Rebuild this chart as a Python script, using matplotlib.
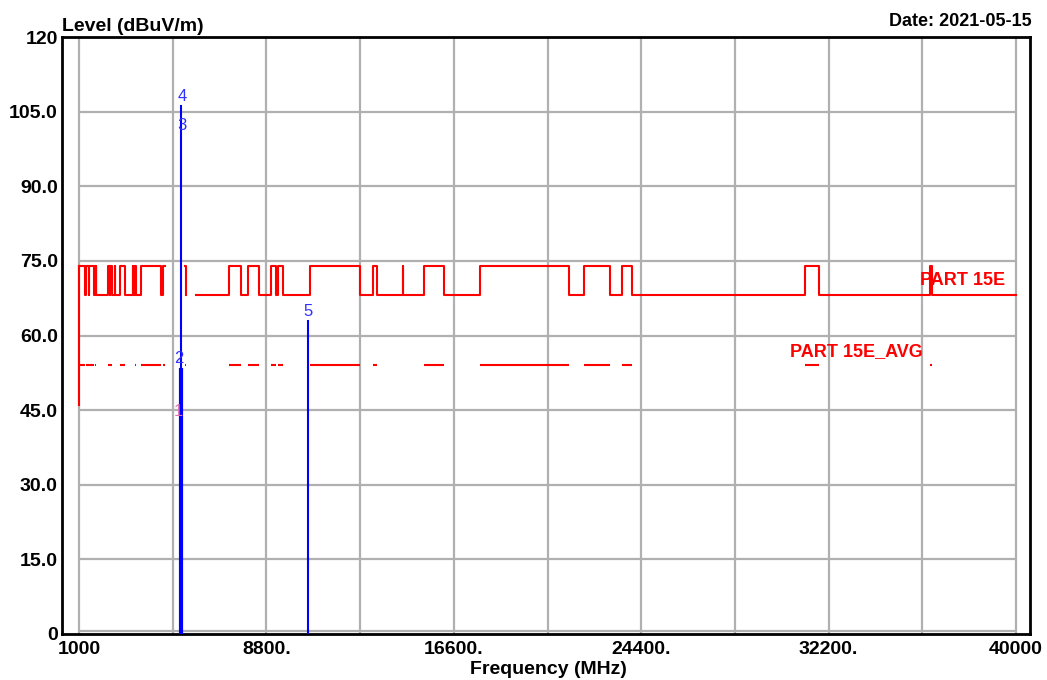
import numpy as np
import matplotlib
matplotlib.use("Agg")
import matplotlib.pyplot as plt

# limit levels (dBuV/m)
peak_hi = 74.0
peak_lo = 68.2
avg_level = 54.0
start_level = 46.0

# restricted bands (MHz) where the peak limit is 74 and the average limit is 54
restricted_bands = [
    (1000, 1240), (1300, 1427), (1435, 1626.5), (1645.5, 1646.5), (1660, 1710),
    (1718.8, 1722.2), (2200, 2300), (2310, 2390), (2483.5, 2500), (2690, 2900),
    (3260, 3267), (3332, 3339), (3345.8, 3358), (3600, 4400), (4500, 5150),
    (5350, 5460), (7250, 7750), (8025, 8500), (9000, 9200), (9300, 9500),
    (10600, 12700), (13250, 13400), (14470, 14500), (15350, 16200),
    (17700, 21400), (22010, 23120), (23600, 24000), (31200, 31800), (36430, 36500),
]
# spans where the limit lines are drawn (gap around the operating band)
limit_spans = [(1000, 4560), (5420, 5470), (5850, 40000)]

# measured traces (blue)
trace_freq = [5250, 5262, 10520]
trace_level = [53.5, 106.3, 63.1]

# marker labels
marker_ids = ["1", "2", "3", "4", "5"]
marker_freq = [5150, 5150, 5300, 5300, 10520]
marker_level = [43.0, 53.5, 100.5, 106.3, 63.1]

x_ticks = [1000, 8800, 16600, 24400, 32200, 40000]
x_tick_labels = ["1000", "8800.", "16600.", "24400.", "32200.", "40000"]
x_grid = [1000, 4900, 8800, 12700, 16600, 20500, 24400, 28300, 32200, 36100, 40000]
y_ticks = [0, 15, 30, 45, 60, 75, 90, 105, 120]
y_tick_labels = ["0", "15.0", "30.0", "45.0", "60.0", "75.0", "90.0", "105.0", "120"]

RED = "#ff0000"
BLUE = "#0000ff"
GRID = "#b0b0b0"
BOLD = ["Liberation Sans", "DejaVu Sans"]


def in_band(f):
    return any(a <= f <= b for a, b in restricted_bands)


def peak_step(lo_f, hi_f):
    edges = {lo_f, hi_f}
    for a, b in restricted_bands:
        for e in (a, b):
            if lo_f < e < hi_f:
                edges.add(e)
    edges = sorted(edges)
    levels = [peak_hi if in_band(0.5 * (e0 + e1)) else peak_lo
              for e0, e1 in zip(edges[:-1], edges[1:])]
    return edges, levels + [levels[-1]]


fig = plt.figure(figsize=(10.47, 6.8), dpi=100)
W, H = 1047, 680
ax = fig.add_axes([62 / W, 1 - 634 / H, (1030 - 62) / W, (634 - 37) / H])
ax.set_xlim(292, 40582)
ax.set_ylim(0, 120)

# grid, drawn only over the measured span
ax.vlines(x_grid, 0, 120, color=GRID, lw=1.6, zorder=1)
ax.hlines(y_ticks[1:-1], 1000, 40000, color=GRID, lw=1.6, zorder=1)
ax.hlines(0.6, 1000, 40000, color=GRID, lw=1.6, zorder=1)

# peak limit
for i, (a, b) in enumerate(limit_spans):
    xs, ys = peak_step(a, b)
    if i == 0:
        ax.plot([a, a], [start_level, ys[0]], color=RED, lw=1.5, zorder=3)
    ax.step(xs, ys, where="post", color=RED, lw=1.5, zorder=3)

# average limit
for a, b in restricted_bands:
    for sa, sb in limit_spans:
        lo_f, hi_f = max(a, sa), min(b, sb)
        if lo_f < hi_f:
            ax.hlines(avg_level, lo_f, hi_f, color=RED, lw=1.5, zorder=3)

ax.text(36000, 71.0, "PART 15E", color=RED, fontsize=13, fontweight="bold",
        family=BOLD, va="center", ha="left", zorder=4)
ax.text(30600, 56.8, "PART 15E_AVG", color=RED, fontsize=13, fontweight="bold",
        family=BOLD, va="center", ha="left", zorder=4)

# traces
ax.vlines(trace_freq[0], 0, trace_level[0], color=BLUE, lw=3.0, zorder=5)
ax.vlines(trace_freq[1:], 0, trace_level[1:], color=BLUE, lw=1.5, zorder=5)

for mid, mf, ml in zip(marker_ids, marker_freq, marker_level):
    col = "#e070b0" if mid == "1" else "#3030ff"
    ax.annotate(mid, (mf, ml), xytext=(0, 1), textcoords="offset points",
                ha="center", va="bottom", color=col, fontsize=12,
                family=BOLD, zorder=6)

ax.set_xticks(x_ticks, x_tick_labels)
ax.set_yticks(y_ticks, y_tick_labels)
ax.tick_params(length=0)
ax.tick_params(axis="y", pad=3)
ax.tick_params(axis="x", pad=5)
for lab in ax.get_yticklabels():
    lab.set_family(BOLD)
    lab.set_fontweight("bold")
    lab.set_fontsize(14)
for lab in ax.get_xticklabels():
    lab.set_family(BOLD)
    lab.set_fontweight("bold")
    lab.set_fontsize(14)
for sp in ax.spines.values():
    sp.set_linewidth(2.0)
    sp.set_color("black")

fig.text(62 / W, 1 - 31 / H, "Level (dBuV/m)", fontsize=14, fontweight="bold",
         family=BOLD, ha="left", va="baseline")
fig.text(1032 / W, 1 - 26 / H, "Date: 2021-05-15", fontsize=13, fontweight="bold",
         family=BOLD, ha="right", va="baseline")
fig.text(548 / W, 1 - 661 / H, "Frequency (MHz)", fontsize=14, fontweight="bold",
         family=BOLD, ha="center", va="top")

fig.savefig("out.png", dpi=100, facecolor="white")
